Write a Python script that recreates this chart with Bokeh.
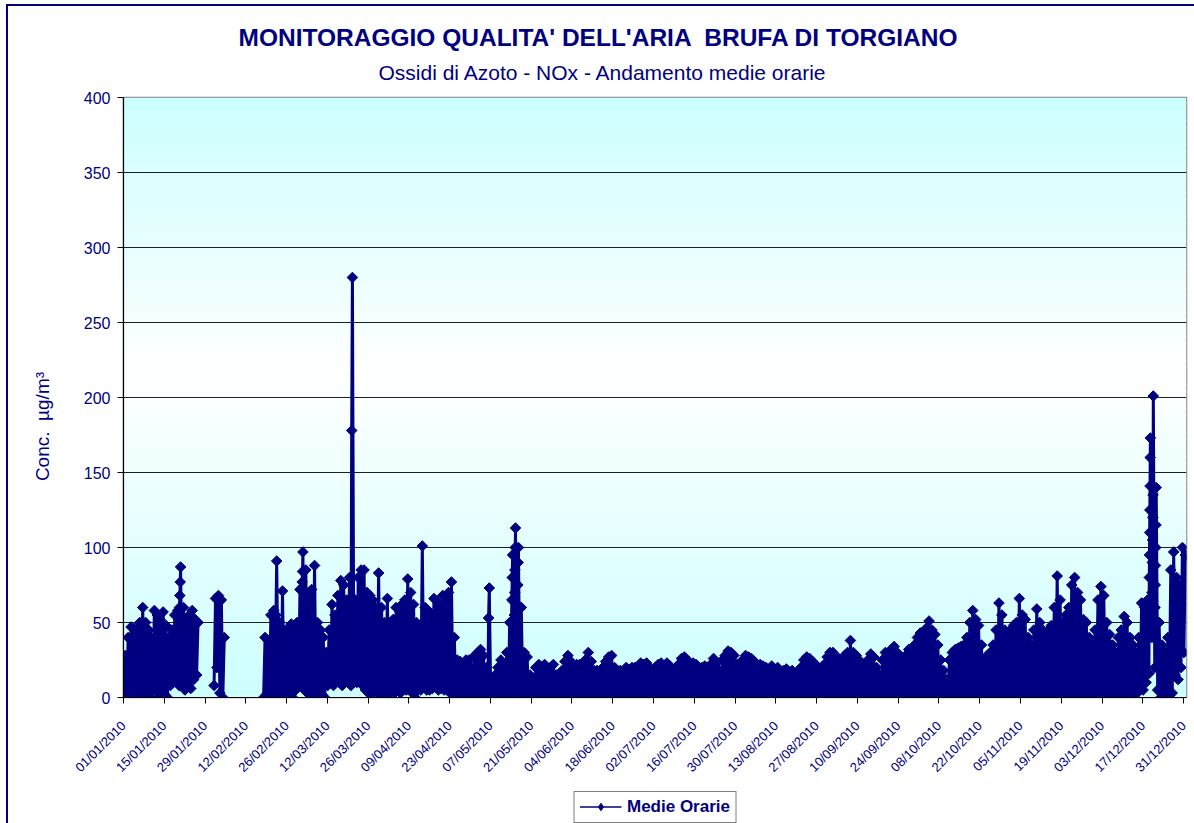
import math
from bokeh.plotting import figure
from bokeh.layouts import column
from bokeh.models import Range1d, FixedTicker, Legend, LegendItem, ColumnDataSource, Title
from bokeh.embed import file_html
from bokeh.resources import INLINE

TITLE = "MONITORAGGIO QUALITA' DELL'ARIA \u00a0BRUFA DI TORGIANO"
SUBTITLE = "Ossidi di Azoto - NOx - Andamento medie orarie"
Y_LABEL = "Conc.\u00a0 µg/m³"
SERIES = "Medie Orarie"

tick_labels = ["01/01/2010", "15/01/2010", "29/01/2010", "12/02/2010", "26/02/2010",
               "12/03/2010", "26/03/2010", "09/04/2010", "23/04/2010", "07/05/2010",
               "21/05/2010", "04/06/2010", "18/06/2010", "02/07/2010", "16/07/2010",
               "30/07/2010", "13/08/2010", "27/08/2010", "10/09/2010", "24/09/2010",
               "08/10/2010", "22/10/2010", "05/11/2010", "19/11/2010", "03/12/2010",
               "17/12/2010", "31/12/2010"]
y_ticks = [0, 50, 100, 150, 200, 250, 300, 350, 400]

N = None
# daily highest hourly value, None = no data
max_jan = [28, 40, 47, 46, 45, 50, 60, 50, 45, 40, 58, 55, 52, 57, 48, 40, 45, 55, 58, 87,
           60, 52, 55, 58, 52, 50, N, N, N, N, N]
max_feb = [66, 68, 65, 40, N, N, N, N, N, N, N, N, N, N, N, N, N,
           40, 38, 55, 58, 91, 50, 71, 45, 45, 49, 45]
max_mar = [50, 72, 97, 85, 70, 72, 88, 50, 45, 40, 30, 45, 62, 55, 68, 78, 75, 65, 80, 280,
           65, 80, 85, 85, 70, 68, 65, 60, 83, 60, 50]
max_apr = [66, 50, 52, 60, 60, 62, 65, 79, 70, 62, 50, 48, 101, 60, 58, 55, 66, 64, 60, 68,
           66, 70, 77, 40, 25, 24, 22, 25, 25, 20]
max_may = [28, 30, 32, 28, 20, 73, 12, 15, 20, 25, 22, 30, 50, 95, 113, 100, 60, 30, 27, 15,
           13, 20, 22, 20, 22, 18, 20, 22, 15, 13, 18]
max_jun = [24, 28, 24, 20, 22, 22, 20, 25, 30, 24, 18, 18, 16, 20, 24, 27, 28, 20, 18, 18,
           17, 20, 15, 20, 20, 19, 23, 22, 23, 20]
max_jul = [16, 20, 22, 23, 20, 23, 21, 18, 20, 22, 26, 27, 25, 20, 23, 22, 18, 20, 21, 18,
           22, 26, 23, 18, 25, 28, 31, 30, 28, 22, 20]
max_aug = [25, 28, 27, 26, 24, 20, 22, 21, 20, 19, 21, 18, 20, 17, 18, 19, 17, 18, 15, 17,
           20, 25, 27, 26, 24, 22, 20, 18, 22, 27, 30]
max_sep = [30, 25, 26, 25, 28, 30, 38, 30, 28, 25, 22, 22, 25, 29, 27, 20, 15, 25, 30, 30,
           32, 34, 30, 28, 25, 28, 32, 30, 35, 40]
max_oct = [43, 40, 46, 51, 45, 42, 35, 25, 18, 12, 25, 30, 32, 33, 34, 35, 40, 50, 58, 52,
           48, 35, 25, 28, 30, 35, 45, 63, 55, 45, 40]
max_nov = [45, 48, 50, 66, 55, 52, 40, 35, 45, 59, 50, 45, 42, 45, 48, 60, 81, 65, 50, 55,
           60, 75, 80, 70, 65, 52, 50, 40, 38, 45]
max_dec = [65, 74, 68, 50, 42, 35, 30, 40, 45, 54, 50, 40, 35, 30, 40, 63, 60, 65, 173, 201,
           140, 50, 35, 30, 40, 85, 97, 80, 75, 100, 95]

# daily lowest hourly value (estimated)
min_jan = [2, 3, 5, 2, 8, 3, 5, 0, 2, 0, 4, 5, 0, 3, 2, 0, 8, 10, 12, 8,
           10, 5, 8, 6, 12, 15, N, N, N, N, N]
min_feb = [8, 20, 3, 0, N, N, N, N, N, N, N, N, N, N, N, N, N,
           0, 2, 0, 3, 0, 5, 0, 2, 0, 3, 0]
min_mar = [5, 8, 10, 5, 3, 0, 0, 0, 0, 2, 0, 8, 10, 8, 12, 10, 8, 12, 10, 8,
           10, 10, 12, 8, 5, 3, 2, 5, 3, 2, 5]
min_apr = [3, 2, 5, 3, 5, 3, 6, 5, 8, 3, 0, 5, 5, 8, 5, 5, 6, 8, 5, 6,
           5, 5, 3, 0, 0, 0, 0, 0, 0, 0]
min_may = [0, 1, 0, 0, 0, 2, 0, 0, 0, 1, 0, 0, 0, 2, 5, 3, 2, 0, 1, 0,
           0, 1, 0, 0, 1, 0, 0, 1, 0, 0, 1]
min_jun = [0, 0, 1, 0, 0, 1, 0, 0, 2, 0, 0, 1, 0, 0, 1, 0, 0, 1, 0, 0,
           1, 0, 0, 1, 0, 0, 1, 0, 0, 1]
min_jul = [0, 0, 1, 0, 0, 1, 0, 0, 1, 0, 0, 1, 0, 0, 1, 0, 0, 1, 0, 0,
           1, 0, 0, 1, 0, 0, 1, 0, 0, 1, 0]
min_aug = [0, 1, 0, 0, 1, 0, 0, 1, 0, 0, 1, 0, 0, 1, 0, 0, 1, 0, 0, 1,
           0, 0, 1, 0, 0, 1, 0, 0, 1, 0, 0]
min_sep = [1, 0, 0, 2, 0, 0, 1, 0, 0, 2, 0, 0, 1, 0, 0, 2, 0, 0, 1, 0,
           0, 2, 0, 0, 1, 0, 0, 2, 0, 1]
min_oct = [0, 2, 0, 1, 0, 3, 0, 0, 2, 0, 1, 3, 2, 3, 2, 3, 2, 0, 1, 0,
           0, 2, 0, 1, 0, 3, 0, 1, 0, 2, 0]
min_nov = [1, 0, 2, 0, 0, 1, 0, 2, 0, 1, 0, 0, 2, 0, 1, 0, 2, 0, 0, 1,
           0, 2, 0, 1, 0, 0, 2, 0, 1, 0]
min_dec = [3, 5, 2, 0, 2, 0, 3, 5, 2, 0, 3, 5, 2, 0, 3, 8, 5, 10, 16, 40,
           20, 5, 0, 0, 2, 0, 3, 15, 12, 20, 30]

# additional hourly readings visible as separate markers on the spikes (day index, value)
extra_day = [19, 19, 19, 52, 61, 61, 61, 78, 125, 133, 133, 133, 134, 134, 134, 134,
             135, 135, 135, 135, 352, 352, 352, 352, 352, 352, 352, 353, 353, 353, 353, 353,
             354, 354, 354, 354, 354]
extra_val = [60, 68, 77, 55, 71, 77, 84, 178, 53, 50, 65, 80, 55, 70, 85, 100,
             45, 62, 75, 90, 65, 80, 95, 110, 125, 141, 160, 70, 90, 105, 120, 135,
             60, 75, 88, 100, 115]

daily_max = max_jan + max_feb + max_mar + max_apr + max_may + max_jun + max_jul + max_aug \
    + max_sep + max_oct + max_nov + max_dec
daily_min = min_jan + min_feb + min_mar + min_apr + min_may + min_jun + min_jul + min_aug \
    + min_sep + min_oct + min_nov + min_dec

xs, ys = [], []
for d in range(len(daily_max)):
    hi, lo = daily_max[d], daily_min[d]
    if hi is None:
        xs.append(d + 0.5)
        ys.append(float("nan"))
        continue
    extras = sorted(v for dd, v in zip(extra_day, extra_val) if dd == d)
    pts = [lo] + extras + [hi]
    for k, v in enumerate(pts):
        xs.append(d + 0.1 + 0.5 * k / (len(pts) - 1))
        ys.append(v)

NAVY = "#000080"
FONT = "Liberation Sans"

p = figure(width=1194, height=790, x_range=Range1d(0, 365), y_range=Range1d(0, 400),
           output_backend="svg", toolbar_location=None,
           min_border_left=123, min_border_right=8, min_border_top=97, min_border_bottom=93)
p.background_fill_color = "white"
p.border_fill_color = None
p.outline_line_color = "#808080"
p.outline_line_width = 1.5

# titles (p.title is the outermost one)
p.title.text = TITLE
p.title.text_font = FONT
p.title.text_font_size = "24.5px"
p.title.text_font_style = "bold"
p.title.text_color = NAVY
p.title.align = "left"
p.title.offset = 115
p.title.standoff = -12
sub_title = Title(text=SUBTITLE, text_font=FONT, text_font_size="21px", text_font_style="normal",
                  text_color=NAVY, align="left", offset=255, standoff=28)
p.add_layout(sub_title, "above")

# vertical gradient background (cyan - white - cyan)
cyan = (204, 255, 255)
strips_b, strips_t, strips_c = [], [], []
mid = 215.0
nstrip = 100
for i in range(nstrip):
    b = 400.0 * i / nstrip
    t = 400.0 * (i + 1) / nstrip + 0.6
    c = (b + t) / 2
    f = (mid - c) / mid if c < mid else (c - mid) / (400 - mid)
    f = max(0.0, min(1.0, f))
    rgb = tuple(int(round(255 * (1 - f) + cc * f)) for cc in cyan)
    strips_b.append(b)
    strips_t.append(min(t, 400))
    strips_c.append("#%02x%02x%02x" % rgb)
p.quad(left=0, right=365, bottom=strips_b, top=strips_t, fill_color=strips_c,
       line_color=None, level="image")

src = ColumnDataSource(data=dict(x=xs, y=ys))
p.line("x", "y", source=src, line_color=NAVY, line_width=3)
p.scatter("x", "y", source=src, marker="square", angle=math.pi / 4, size=7.5,
          fill_color=NAVY, line_color=NAVY)

# axes
tick_pos = [14 * i for i in range(len(tick_labels))]
p.xaxis.ticker = FixedTicker(ticks=tick_pos)
p.xaxis.major_label_overrides = {t: lab for t, lab in zip(tick_pos, tick_labels)}
p.xaxis.major_label_orientation = math.pi / 4
p.xaxis.major_label_text_font_size = "13px"
p.xaxis.major_label_standoff = 20
p.yaxis.ticker = FixedTicker(ticks=y_ticks)
p.yaxis.major_label_text_font_size = "16px"
p.yaxis.major_label_standoff = 7
p.yaxis.axis_label = Y_LABEL + "\u00a0" * 11
p.yaxis.axis_label_text_font = FONT
p.yaxis.axis_label_text_font_size = "19px"
p.yaxis.axis_label_text_font_style = "normal"
p.yaxis.axis_label_text_color = NAVY
p.yaxis.axis_label_standoff = 28
for ax in (p.xaxis, p.yaxis):
    ax.major_label_text_color = NAVY
    ax.major_label_text_font = FONT
    ax.axis_line_color = "black"
    ax.axis_line_width = 1.2
    ax.major_tick_line_color = "black"
    ax.major_tick_out = 6
    ax.major_tick_in = 0
    ax.minor_tick_line_color = None
p.xgrid.visible = False
p.ygrid.grid_line_color = "#202020"
p.ygrid.grid_line_width = 1

# legend strip below the chart (its renderers use the series, kept out of view)
lf = figure(width=1194, height=33, x_range=Range1d(0, 365), y_range=Range1d(-20, -10),
            output_backend="svg", toolbar_location=None, min_border=0,
            min_border_left=123, min_border_right=8,
            x_axis_location=None, y_axis_location=None)
lf.title.visible = False
lf.outline_line_color = None
lf.border_fill_color = None
lf.background_fill_color = None
lf.xgrid.visible = False
lf.ygrid.visible = False
lg_line = lf.line("x", "y", source=src, line_color=NAVY, line_width=1.6)
lg_mark = lf.scatter("x", "y", source=src, marker="diamond", size=11,
                     fill_color=NAVY, line_color=NAVY)
legend = Legend(items=[LegendItem(label=SERIES, renderers=[lg_line, lg_mark])],
                location="center", orientation="horizontal")
legend.label_text_font = FONT
legend.label_text_font_style = "bold"
legend.label_text_font_size = "17px"
legend.label_text_color = NAVY
legend.border_line_color = "black"
legend.border_line_width = 1
legend.background_fill_color = "white"
legend.background_fill_alpha = 1
legend.padding = 5
legend.glyph_width = 42
legend.glyph_height = 19
legend.label_standoff = 6
legend.margin = 0
lf.add_layout(legend, "center")

layout = column(p, lf, spacing=0)
layout.styles = {
    "background": "linear-gradient(#000080, #000080) 6px 4px / 2px 100% no-repeat, "
                  "linear-gradient(#000080, #000080) 6px 4px / 100% 2px no-repeat, #ffffff"
}

open("out.html", "w").write(file_html(layout, INLINE))
